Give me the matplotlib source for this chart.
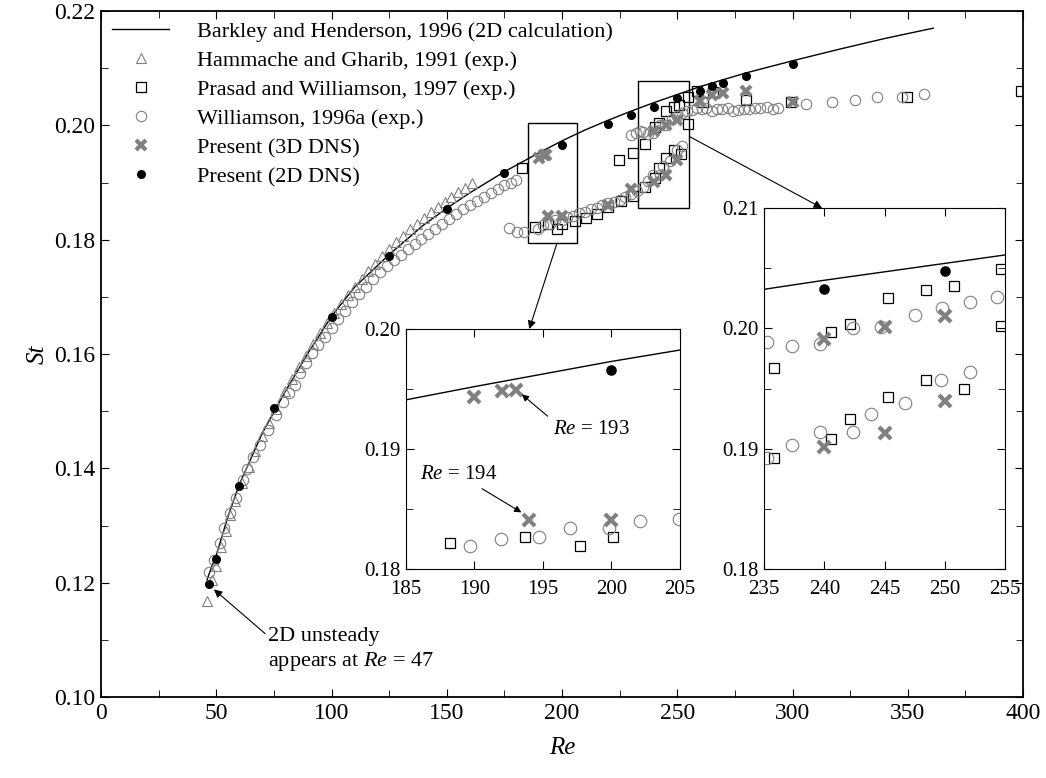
import matplotlib
matplotlib.use('Agg')
import matplotlib.pyplot as plt
from matplotlib.patches import Rectangle, ConnectionPatch

plt.rcParams['font.family'] = ['Liberation Serif', 'DejaVu Serif']
plt.rcParams['mathtext.fontset'] = 'custom'
plt.rcParams['mathtext.rm'] = 'Liberation Serif'
plt.rcParams['mathtext.it'] = 'Liberation Serif:italic'

# Barkley and Henderson, 1996 (2D calculation)
re_bh = [46, 48, 50, 55, 60, 70, 80, 90, 100, 110, 125, 140, 150, 160, 175, 185, 190, 200, 210,
         220, 230, 240, 250, 260, 280, 300, 320, 340, 361]
st_bh = [0.1205, 0.1228, 0.1248, 0.1315, 0.1372, 0.1462, 0.1535, 0.1603, 0.1666, 0.1717, 0.1774,
         0.1826, 0.1855, 0.1882, 0.1919, 0.1941, 0.1952, 0.1973, 0.1992, 0.2009, 0.2025, 0.2040,
         0.2054, 0.2068, 0.2092, 0.2113, 0.2133, 0.2152, 0.2170]

# Hammache and Gharib, 1991
re_hg = [46, 48, 50, 52, 54, 56, 58, 61, 64, 67, 70, 73, 76, 80, 83, 86, 89, 92, 95, 98, 101,
         104, 107, 110, 113, 116, 119, 122, 125, 128, 131, 134, 137, 140, 143, 146, 149, 152,
         155, 158, 161]
st_hg = [0.1168, 0.1205, 0.1230, 0.1262, 0.1290, 0.1318, 0.1343, 0.1375, 0.1402, 0.1430, 0.1456,
         0.1480, 0.1503, 0.1535, 0.1556, 0.1577, 0.1597, 0.1617, 0.1636, 0.1655, 0.1672, 0.1688,
         0.1703, 0.1717, 0.1731, 0.1745, 0.1758, 0.1771, 0.1784, 0.1796, 0.1807, 0.1818, 0.1828,
         0.1838, 0.1848, 0.1857, 0.1866, 0.1875, 0.1883, 0.1891, 0.1899]

# Prasad and Williamson, 1997
re_pw = [182.7, 188.2, 193.7, 197.7, 200.1, 205.6, 210.4, 215.0, 220.0, 224.8, 225.5, 230.8,
         230.9, 235.8, 235.8, 240.5, 240.5, 242.1, 242.1, 245.3, 245.3, 248.4, 248.4, 250.8,
         251.6, 254.7, 254.7, 258.4, 261.0, 265.5, 280.0, 299.5, 349.7, 399.0]
st_pw = [0.1925, 0.1822, 0.1827, 0.1819, 0.1827, 0.1833, 0.1838, 0.1845, 0.1858, 0.1940, 0.1868,
         0.1876, 0.1951, 0.1892, 0.1967, 0.1908, 0.1997, 0.1925, 0.2004, 0.1943, 0.2025, 0.1957,
         0.2032, 0.2035, 0.1950, 0.2002, 0.2049, 0.2060, 0.2041, 0.2058, 0.2044, 0.2041, 0.2050,
         0.2060]

# Williamson, 1996a
re_w = [47, 49, 51.5, 53.5, 56, 58.5, 61.5, 63.5, 66, 69, 72.5, 76, 79, 81.5, 84, 86.5, 89, 91.5,
        94, 97, 100, 103, 106, 109, 112, 115, 118, 121, 124, 127, 130, 133, 136, 139, 142, 145,
        148, 151, 154, 157, 160, 163, 166, 169, 172, 175, 178, 180,
        # mode A branch
        177, 180.4, 183.5, 189.7, 191.9, 194.7, 197.0, 199.8, 202.1, 204.9, 207.5, 210, 212.5,
        215, 217.5, 220, 222.5, 225, 227.5, 230, 232.5, 235.2, 237.3, 239.6, 242.4, 243.9,
        246.7, 249.7, 252.1,
        # mode B branch
        230, 232, 234, 235.2, 237.3, 239.6, 242.4, 244.7, 247.5, 249.8, 252.1, 254.3, 256.5,
        258.7, 260.5, 262.5, 265, 267, 269.5, 272, 274, 276.5, 279, 281, 283.5, 286, 289,
        291.5, 293.8, 306, 317, 327, 336.7, 347.5, 357]
st_w = [0.1219, 0.1240, 0.1270, 0.1296, 0.1322, 0.1348, 0.1380, 0.1399, 0.1420, 0.1441, 0.1467,
        0.1493, 0.1516, 0.1532, 0.1546, 0.1567, 0.1585, 0.1601, 0.1615, 0.1630, 0.1646, 0.1661,
        0.1676, 0.1691, 0.1705, 0.1718, 0.1731, 0.1743, 0.1754, 0.1764, 0.1774, 0.1783, 0.1792,
        0.1801, 0.1810, 0.1818, 0.1827, 0.1836, 0.1845, 0.1853, 0.1861, 0.1868, 0.1875, 0.1882,
        0.1889, 0.1895, 0.1900, 0.1905,
        0.1820, 0.1813, 0.1814, 0.1819, 0.1825, 0.1827, 0.1834, 0.1834, 0.1840, 0.1842,
        0.1846, 0.1849, 0.1853, 0.1856, 0.1860, 0.1864, 0.1866, 0.1870, 0.1875, 0.1880, 0.1885,
        0.1892, 0.1903, 0.1914, 0.1914, 0.1929, 0.1938, 0.1957, 0.1964,
        0.1984, 0.1987, 0.1991, 0.1989, 0.1985, 0.1987, 0.2000, 0.2001, 0.2011, 0.2017, 0.2022,
        0.2026, 0.2027, 0.2030, 0.2028, 0.2030, 0.2026, 0.2029, 0.2028, 0.2031, 0.2026, 0.2027,
        0.2029, 0.2028, 0.2031, 0.2030, 0.2032, 0.2029, 0.2031, 0.2037, 0.2041, 0.2044, 0.2050,
        0.2050, 0.2055]

# Present (3D DNS)
re_3d = [190, 192, 193, 194, 200, 220, 230, 240, 240, 245, 245, 250, 250, 260, 265, 270, 280, 300]
st_3d = [0.1943, 0.1948, 0.1949, 0.1841, 0.1841, 0.1861, 0.1889, 0.1991, 0.1901, 0.2001, 0.1913,
         0.2010, 0.1940, 0.2043, 0.2054, 0.2057, 0.2060, 0.2041]

# Present (2D DNS)
re_2d = [47, 50, 60, 75, 100, 125, 150, 175, 200, 220, 230, 240, 250, 260, 265, 270, 280, 300]
st_2d = [0.1198, 0.1241, 0.1369, 0.1505, 0.1665, 0.1771, 0.1854, 0.1917, 0.1966, 0.2002, 0.2018,
         0.2033, 0.2048, 0.2060, 0.2069, 0.2074, 0.2086, 0.2107]

GREY = '#808080'


def draw_data(ax, scale=1.0):
    ax.plot(re_bh, st_bh, color='k', lw=1.0, label='Barkley and Henderson, 1996 (2D calculation)')
    ax.plot(re_hg, st_hg, ls='none', marker='^', ms=7.5 * scale, mfc='none', mec=GREY, mew=0.8,
            label='Hammache and Gharib, 1991 (exp.)')
    ax.plot(re_pw, st_pw, ls='none', marker='s', ms=6.5 * scale, mfc='none', mec='k', mew=0.9,
            label='Prasad and Williamson, 1997 (exp.)')
    ax.plot(re_w, st_w, ls='none', marker='o', ms=7.5 * scale, mfc='none', mec=GREY, mew=0.8,
            label='Williamson, 1996a (exp.)')
    ax.plot(re_3d, st_3d, ls='none', marker='x', ms=7.5 * scale, mec=GREY, mew=3.0,
            label='Present (3D DNS)')
    ax.plot(re_2d, st_2d, ls='none', marker='o', ms=5.5 * scale, mfc='k', mec='k',
            label='Present (2D DNS)')


def style_axes(ax, size, xpad=4):
    ax.tick_params(which='both', direction='in', top=True, right=True, labelsize=size, pad=4)
    ax.tick_params(axis='x', which='both', pad=xpad)
    ax.tick_params(which='major', length=6)
    ax.tick_params(which='minor', length=5)


fig = plt.figure(figsize=(10.46, 7.78), dpi=100)
ax = fig.add_axes([0.0966, 0.1041, 0.8815, 0.8817])
draw_data(ax)
ax.set_xlim(0, 400)
ax.set_ylim(0.10, 0.22)
ax.set_xticks(range(0, 401, 50))
ax.set_xticks(range(0, 401, 25), minor=True)
ax.set_yticks([0.10, 0.12, 0.14, 0.16, 0.18, 0.20, 0.22])
ax.set_yticklabels(['0.10', '0.12', '0.14', '0.16', '0.18', '0.20', '0.22'])
ax.set_yticks([0.11, 0.13, 0.15, 0.17, 0.19, 0.21], minor=True)
style_axes(ax, 17)
for s in ax.spines.values():
    s.set_linewidth(1.3)
ax.set_xlabel('Re', style='italic', fontsize=18, labelpad=10)
ax.set_ylabel('St', style='italic', fontsize=18, labelpad=4)

ax.legend(loc='upper left', frameon=False, fontsize=16, handlelength=2.6, handletextpad=1.25,
          labelspacing=0.38, borderaxespad=0.3, borderpad=0.18)

# zoom boxes
ax.add_patch(Rectangle((185.1, 0.1795), 21.2, 0.0210, fill=False, ec='k', lw=1.0))
ax.add_patch(Rectangle((233.1, 0.1856), 22.1, 0.0221, fill=False, ec='k', lw=1.0))

ax.annotate('2D unsteady\nappears at $Re$ = 47', xy=(47.6, 0.1193), xytext=(72.4, 0.1123),
            fontsize=16, ha='left', va='top', linespacing=1.3,
            arrowprops=dict(arrowstyle='-|>', color='k', lw=0.8, mutation_scale=12,
                            shrinkA=0, shrinkB=3, relpos=(0, 0.8)))

# inset 1
ax1 = fig.add_axes([0.3881, 0.2686, 0.2620, 0.3085])
draw_data(ax1, scale=1.2)
ax1.set_xlim(185, 205)
ax1.set_ylim(0.18, 0.20)
ax1.set_xticks([185, 190, 195, 200, 205])
ax1.set_yticks([0.18, 0.19, 0.20])
ax1.set_yticklabels(['0.18', '0.19', '0.20'])
ax1.set_yticks([0.185, 0.195], minor=True)
style_axes(ax1, 15, xpad=8)
ax1.annotate('$Re$ = 193', xy=(193.3, 0.1947), xytext=(195.7, 0.1916), fontsize=15,
             ha='left', va='center',
             arrowprops=dict(arrowstyle='-|>', color='k', lw=0.8, mutation_scale=10,
                             shrinkA=2, shrinkB=2, relpos=(0, 1)))
ax1.annotate('$Re$ = 194', xy=(193.6, 0.1846), xytext=(186.0, 0.1879), fontsize=15,
             ha='left', va='center',
             arrowprops=dict(arrowstyle='-|>', color='k', lw=0.8, mutation_scale=10,
                             shrinkA=3, shrinkB=2, relpos=(0.7, 0)))

# inset 2
ax2 = fig.add_axes([0.7307, 0.2686, 0.2301, 0.4640])
draw_data(ax2, scale=1.2)
ax2.set_xlim(235, 255)
ax2.set_ylim(0.18, 0.21)
ax2.set_xticks([235, 240, 245, 250, 255])
ax2.set_yticks([0.18, 0.19, 0.20, 0.21])
ax2.set_yticklabels(['0.18', '0.19', '0.20', '0.21'])
ax2.set_yticks([0.185, 0.195, 0.205], minor=True)
style_axes(ax2, 15, xpad=8)

# arrows from boxes to insets
for xyA, axB, xyB in [((197.8, 0.1794), ax1, (194.0, 0.20)),
                      ((255.5, 0.1980), ax2, (239.8, 0.21))]:
    con = ConnectionPatch(xyA=xyA, coordsA=ax.transData, xyB=xyB, coordsB=axB.transData,
                          arrowstyle='-|>', color='k', lw=0.8, mutation_scale=12,
                          shrinkA=0, shrinkB=0, zorder=5)
    fig.add_artist(con)

fig.savefig('out.png', dpi=100)
